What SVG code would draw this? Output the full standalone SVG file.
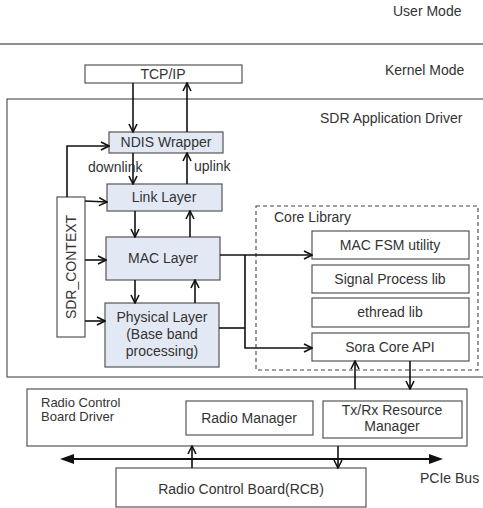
<svg xmlns="http://www.w3.org/2000/svg" width="483" height="508" viewBox="0 0 483 508">
<style>
text{font-family:"Liberation Sans",Arial,sans-serif;font-size:14px;fill:#333}
.c{text-anchor:middle}
.sm{font-size:13px}
.box{fill:#fff;stroke:#555;stroke-width:1.2}
.blue{fill:#e3e9f4;stroke:#555;stroke-width:1.2}
.ln{fill:none;stroke:#111;stroke-width:1.6}
.arr{fill:none;stroke:#111;stroke-width:1.6;marker-end:url(#ah)}
.bus{fill:none;stroke:#111;stroke-width:2.2;marker-start:url(#bs);marker-end:url(#be)}
</style>
<defs>
<marker id="ah" viewBox="0 0 10 10" refX="9" refY="5" markerWidth="10" markerHeight="10" markerUnits="userSpaceOnUse" orient="auto">
<path d="M1,1 L9,5 L1,9" fill="none" stroke="#111" stroke-width="1.6"/>
</marker>
<marker id="be" viewBox="0 0 14 10" refX="2" refY="5" markerWidth="15" markerHeight="10" markerUnits="userSpaceOnUse" orient="auto">
<path d="M0,0 L14,5 L0,10 Z" fill="#111"/>
</marker>
<marker id="bs" viewBox="0 0 14 10" refX="12" refY="5" markerWidth="15" markerHeight="10" markerUnits="userSpaceOnUse" orient="auto">
<path d="M14,0 L0,5 L14,10 Z" fill="#111"/>
</marker>
</defs>

<g id="mode-labels">
<text x="393" y="16">User Mode</text>
<line x1="0" y1="44" x2="483" y2="44" stroke="#222" stroke-width="1.2"/>
<text x="385" y="75">Kernel Mode</text>
</g>

<g id="sdr-driver">
<rect class="box" x="7" y="99" width="480" height="278"/>
<text x="320" y="123">SDR Application Driver</text>
</g>

<g id="tcpip">
<rect class="box" x="85" y="65" width="157" height="18"/>
<text class="c" x="163" y="79">TCP/IP</text>
</g>

<g id="ndis">
<rect class="blue" x="109" y="132" width="114" height="21"/>
<text class="c" x="166" y="147">NDIS Wrapper</text>
</g>

<g id="link">
<rect class="blue" x="107" y="184" width="115" height="27"/>
<text class="c" x="164" y="202">Link Layer</text>
</g>

<g id="mac">
<rect class="blue" x="106" y="237" width="114" height="43"/>
<text class="c" x="163" y="263">MAC Layer</text>
</g>

<g id="phy">
<rect class="blue" x="105" y="303" width="114" height="64"/>
<text class="c" x="162" y="322">Physical Layer</text>
<text class="c" x="162" y="339">(Base band</text>
<text class="c" x="162" y="356">processing)</text>
</g>

<g id="sdr-context">
<rect class="box" x="57" y="197" width="28" height="140"/>
<text class="c" transform="translate(76,267) rotate(-90)">SDR_CONTEXT</text>
</g>

<g id="core-library">
<rect x="256" y="206" width="222" height="164" fill="none" stroke="#444" stroke-width="1.1" stroke-dasharray="4,3"/>
<text x="274" y="222">Core Library</text>
</g>

<g id="mac-fsm">
<rect class="box" x="312" y="231" width="157" height="28"/>
<text class="c" x="390" y="250">MAC FSM utility</text>
</g>
<g id="signal-process">
<rect class="box" x="312" y="265" width="157" height="28"/>
<text class="c" x="390" y="284">Signal Process lib</text>
</g>
<g id="ethread">
<rect class="box" x="312" y="298" width="157" height="29"/>
<text class="c" x="390" y="317">ethread lib</text>
</g>
<g id="sora-core-api">
<rect class="box" x="312" y="333" width="157" height="28"/>
<text class="c" x="390" y="352">Sora Core API</text>
</g>

<g id="rcb-driver">
<rect class="box" x="27" y="389" width="440" height="57"/>
<text class="sm" x="41" y="407">Radio Control</text>
<text class="sm" x="41" y="421">Board Driver</text>
</g>
<g id="radio-manager">
<rect class="box" x="186" y="401" width="127" height="34"/>
<text class="c" x="249" y="423">Radio Manager</text>
</g>
<g id="txrx-manager">
<rect class="box" x="323" y="401" width="139" height="37"/>
<text class="c" x="392" y="415">Tx/Rx Resource</text>
<text class="c" x="392" y="431">Manager</text>
</g>

<g id="rcb">
<rect class="box" x="116" y="468" width="250" height="39"/>
<text class="c" x="241" y="494">Radio Control Board(RCB)</text>
</g>

<g id="pcie-label">
<text x="420" y="483">PCIe Bus</text>
</g>

<g id="connectors">
<line class="arr" x1="133" y1="83" x2="133" y2="132"/>
<line class="arr" x1="187" y1="132" x2="187" y2="83"/>
<line class="arr" x1="133" y1="153" x2="133" y2="184"/>
<line class="arr" x1="187" y1="184" x2="187" y2="153"/>
<text x="88" y="172">downlink</text>
<text x="194" y="171">uplink</text>
<line class="arr" x1="135" y1="211" x2="135" y2="237"/>
<line class="arr" x1="190" y1="237" x2="190" y2="211"/>
<line class="arr" x1="135" y1="280" x2="135" y2="303"/>
<line class="arr" x1="195" y1="303" x2="195" y2="280"/>
<polyline class="arr" points="67,197 67,146 109,146"/>
<line class="arr" x1="85" y1="201" x2="107" y2="202"/>
<line class="arr" x1="85" y1="260" x2="106" y2="260"/>
<line class="arr" x1="85" y1="321" x2="105" y2="321"/>
<line class="arr" x1="220" y1="255" x2="312" y2="255"/>
<line class="ln" x1="219" y1="328" x2="245" y2="328"/>
<polyline class="arr" points="245,255 245,348 312,348"/>
<line class="arr" x1="355" y1="389" x2="355" y2="361"/>
<line class="arr" x1="410" y1="361" x2="410" y2="389"/>
<line class="bus" x1="72" y1="459" x2="431" y2="459"/>
<line class="arr" x1="192" y1="468" x2="192" y2="446"/>
<line class="arr" x1="338" y1="446" x2="338" y2="468"/>
</g>
</svg>
